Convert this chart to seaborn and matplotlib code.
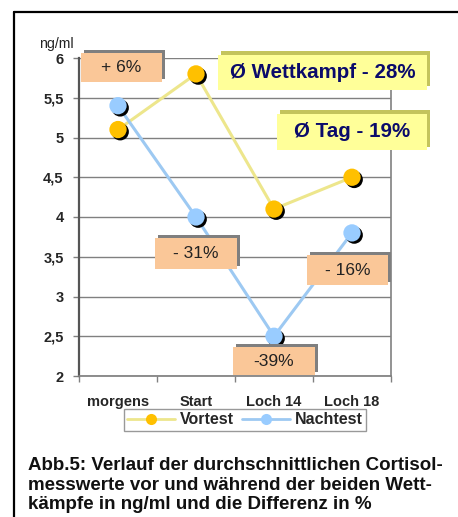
import matplotlib
matplotlib.use("Agg")
import matplotlib.pyplot as plt
import matplotlib.patheffects as pe
from matplotlib.patches import Rectangle
from matplotlib.lines import Line2D
import seaborn as sns
import pandas as pd

# ---- data ----
categories = ["morgens", "Start", "Loch 14", "Loch 18"]
vortest = [5.1, 5.8, 4.1, 4.5]
nachtest = [5.4, 4.0, 2.5, 3.8]
series_names = ["Vortest", "Nachtest"]
y_ticks = [2, 2.5, 3, 3.5, 4, 4.5, 5, 5.5, 6]
y_tick_labels = ["2", "2,5", "3", "3,5", "4", "4,5", "5", "5,5", "6"]
diff_labels = ["+ 6%", "- 31%", "-39%", "- 16%"]
summary_labels = ["Ø Wettkampf - 28%", "Ø Tag - 19%"]
unit_label = "ng/ml"
caption = ("Abb.5: Verlauf der durchschnittlichen Cortisol-\n"
           "messwerte vor und während der beiden Wett-\n"
           "kämpfe in ng/ml und die Differenz in %")

df = pd.DataFrame({
    "x": list(range(len(categories))) * 2,
    "value": vortest + nachtest,
    "series": [series_names[0]] * len(categories) + [series_names[1]] * len(categories),
})

line_colors = {"Vortest": "#EDE68C", "Nachtest": "#9DC9F2"}
marker_colors = {"Vortest": "#FFC000", "Nachtest": "#99CCFF"}

sns.set_theme(style="white")
plt.rcParams["font.family"] = ["Liberation Sans", "DejaVu Sans"]

W, H = 458, 517
fig = plt.figure(figsize=(W / 100, H / 100), dpi=100)
fx = lambda px: px / W
fy = lambda py: 1 - py / H

ax = fig.add_axes([fx(79), fy(376), (391 - 79) / W, (376 - 58) / H])

sns.lineplot(data=df, x="x", y="value", hue="series", palette=line_colors,
             linewidth=2.2, ax=ax, legend=False, zorder=3)
shadow = [pe.SimplePatchShadow(offset=(1.6, -1.6), shadow_rgbFace="black", alpha=1.0), pe.Normal()]
sns.scatterplot(data=df, x="x", y="value", hue="series", palette=marker_colors,
                s=155, linewidth=0, ax=ax, legend=False, zorder=4)
for coll in ax.collections:
    coll.set_path_effects(shadow)

ax.set_xlim(-0.5, len(categories) - 0.5)
ax.set_ylim(2, 6)
ax.set_yticks(y_ticks)
ax.set_yticklabels(y_tick_labels, fontsize=10.5, fontweight="bold")
ax.set_xticks(range(len(categories)))
ax.set_xticklabels(categories, fontsize=10.5, fontweight="bold")
ax.set_xticks([i - 0.5 for i in range(len(categories) + 1)], minor=True)
ax.tick_params(axis="x", which="major", length=0, pad=14)
ax.tick_params(axis="x", which="minor", length=4, width=1, color="#808080", bottom=True)
ax.tick_params(axis="y", length=4, width=1, color="#808080", left=True, pad=7)
ax.set_xlabel("")
ax.set_ylabel("")
ax.yaxis.grid(True, color="#808080", linewidth=1)
ax.set_axisbelow(True)
ax.spines["top"].set_visible(False)
ax.spines["left"].set_color("#555555")
ax.spines["left"].set_linewidth(1.6)
ax.spines["bottom"].set_color("#808080")
ax.spines["right"].set_color("#808080")
ax.spines["right"].set_linewidth(1.2)
ax.set_facecolor("white")

# ---- difference boxes (salmon with gray 3D edge) ----
diff_boxes = [(-0.474, 5.70, 1.04, 0.36), (0.474, 3.35, 1.05, 0.39),
              (1.474, 2.01, 1.05, 0.35), (2.42, 3.14, 1.04, 0.38)]
gray_sh = [pe.SimplePatchShadow(offset=(2.0, 2.2), shadow_rgbFace="#7F7F7F", alpha=1.0), pe.Normal()]
for lab, (x0, y0, w, h) in zip(diff_labels, diff_boxes):
    r = Rectangle((x0, y0), w, h, facecolor="#FAC798", edgecolor="none",
                  clip_on=False, zorder=6)
    r.set_path_effects(gray_sh)
    ax.add_patch(r)
    ax.text(x0 + w / 2, y0 + h / 2, lab, ha="center", va="center",
            fontsize=12.5, color="#222222", zorder=7, clip_on=False)

# ---- summary boxes (yellow with olive 3D edge) ----
sum_boxes = [(1.28, 5.60, 2.68, 0.44), (2.04, 4.84, 1.92, 0.46)]
olive_sh = [pe.SimplePatchShadow(offset=(2.2, 2.4), shadow_rgbFace="#C4C45C", alpha=1.0), pe.Normal()]
for lab, (x0, y0, w, h) in zip(summary_labels, sum_boxes):
    r = Rectangle((x0, y0), w, h, facecolor="#FFFF99", edgecolor="none",
                  clip_on=False, zorder=6)
    r.set_path_effects(olive_sh)
    ax.add_patch(r)
    ax.text(x0 + w / 2, y0 + h / 2, lab, ha="center", va="center",
            fontsize=14.8, fontweight="bold", color="#0B0B6B", zorder=7, clip_on=False)

# unit label
fig.text(fx(39), fy(44), unit_label, ha="left", va="center", fontsize=10.2, color="#222222")

# legend
handles = [Line2D([0], [0], color=line_colors[n], lw=2, marker="o", markersize=8,
                  markerfacecolor=marker_colors[n], markeredgewidth=0) for n in series_names]
leg = fig.legend(handles, series_names, loc="center", bbox_to_anchor=(fx(245), fy(420)),
                 ncol=2, frameon=True, fancybox=False, edgecolor="#808080",
                 prop={"weight": "bold", "size": 11.5}, handlelength=3.0,
                 handletextpad=0.3, columnspacing=0.5, borderpad=0.2)
leg.get_frame().set_linewidth(1.0)

# caption
fig.text(fx(28), fy(457), caption, ha="left", va="top", fontsize=13.5,
         fontweight="bold", color="#111111", linespacing=1.2)

# outer frame (left and top)
fig.add_artist(Line2D([fx(14), fx(14)], [fy(12), 0], transform=fig.transFigure, color="black", lw=1.6))
fig.add_artist(Line2D([fx(14), 1], [fy(12), fy(12)], transform=fig.transFigure, color="black", lw=1.6))

fig.savefig("out.png", dpi=100, facecolor="white")
